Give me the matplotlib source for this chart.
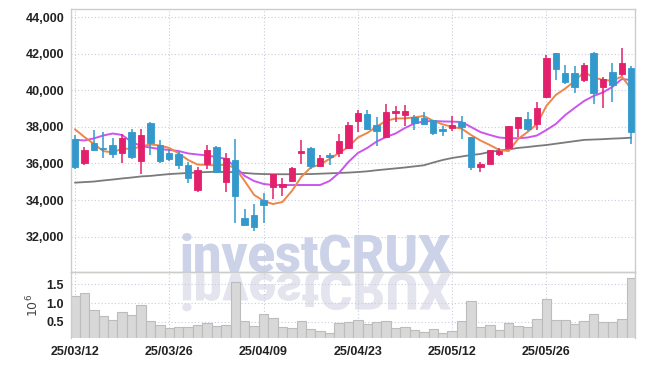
import matplotlib
matplotlib.use('Agg')
import matplotlib.pyplot as plt
import numpy as np
from matplotlib.textpath import TextPath
from matplotlib.font_manager import FontProperties
from matplotlib.patches import PathPatch
from matplotlib.transforms import Affine2D, IdentityTransform

plt.rcParams['font.family'] = ['Liberation Sans', 'DejaVu Sans']

# ---------------- data ----------------
dates = ['25/03/12', '25/03/13', '25/03/14', '25/03/17', '25/03/18', '25/03/19', '25/03/20',
         '25/03/21', '25/03/24', '25/03/25', '25/03/26', '25/03/27', '25/03/28', '25/03/31',
         '25/04/01', '25/04/02', '25/04/03', '25/04/04', '25/04/07', '25/04/08', '25/04/09',
         '25/04/10', '25/04/11', '25/04/14', '25/04/15', '25/04/16', '25/04/17', '25/04/18',
         '25/04/21', '25/04/22', '25/04/23', '25/04/24', '25/04/25', '25/04/28', '25/04/29',
         '25/04/30', '25/05/02', '25/05/07', '25/05/08', '25/05/09', '25/05/12', '25/05/13',
         '25/05/14', '25/05/15', '25/05/16', '25/05/19', '25/05/20', '25/05/21', '25/05/22',
         '25/05/23', '25/05/26', '25/05/27', '25/05/28', '25/05/29', '25/05/30', '25/06/02',
         '25/06/04', '25/06/05', '25/06/09', '25/06/10']

opens = [37350, 36000, 37100, 36850, 37000, 36550, 37700, 36150, 38200, 37000,
         36550, 36500, 35900, 34550, 35950, 36900, 35000, 36200, 33000, 33200,
         34000, 34700, 34700, 35050, 36550, 36850, 35850, 36450, 36600, 36850,
         38300, 38700, 38100, 37450, 38750, 38650, 38550, 38500, 38400, 37900,
         37950, 38250, 37450, 35800, 35950, 36500, 36850, 37950, 38450, 38150,
         39650, 42050, 40950, 40950, 40550, 42050, 40200, 41000, 40900, 41250]
highs = [37550, 36900, 37850, 37700, 37400, 37600, 37900, 37900, 38250, 37300,
         36800, 36650, 36100, 35800, 37000, 36950, 36550, 37350, 33500, 33800,
         34400, 35450, 35200, 35800, 37300, 36900, 36450, 36550, 37600, 38250,
         38950, 38950, 38550, 39250, 39150, 39200, 38650, 38800, 38400, 38050,
         38600, 38600, 37450, 36100, 36750, 36850, 38050, 38550, 38800, 39350,
         41950, 42050, 41400, 41350, 41500, 42100, 40750, 41500, 42300, 41350]
lows = [35700, 35900, 36700, 36300, 36300, 36000, 36250, 35450, 36450, 36050,
        36150, 35700, 34950, 34450, 35700, 35500, 34450, 32750, 32650, 32300,
        32750, 34050, 34200, 35000, 35950, 35700, 35800, 35900, 36350, 36800,
        37700, 37850, 36950, 37400, 38250, 38050, 37850, 38100, 37550, 37500,
        37800, 37350, 35650, 35550, 35950, 36400, 36850, 37450, 37800, 37850,
        39600, 40550, 40350, 39850, 40450, 39250, 39050, 39350, 40800, 37050]
closes = [35800, 36750, 36750, 36800, 36500, 37400, 36350, 37550, 37100, 36150,
          36250, 35900, 35200, 35650, 36750, 35550, 36300, 34200, 32650, 32500,
          33700, 35400, 34900, 35750, 36700, 35850, 36300, 36350, 37250, 38100,
          38750, 37900, 37800, 38800, 38850, 38850, 38200, 38150, 37650, 37800,
          38100, 38000, 35800, 35950, 36750, 36700, 38050, 38550, 37900, 39050,
          41750, 41150, 40450, 40200, 41400, 39850, 40600, 40300, 41500, 37700]

ma5 = [37870, 37450, 37070, 36680, 36600, 36820, 36790, 36930, 37040, 36980,
       36850, 36550, 36190, 35940, 35920, 35890, 35940, 35750, 35040, 34280,
       33950, 33780, 33890, 34490, 35260, 35780, 35940, 36250, 36570, 36900,
       37420, 37670, 38020, 38330, 38460, 38470, 38520, 38600, 38330, 38140,
       38000, 37910, 37560, 37260, 37010, 36740, 36680, 37340, 37720, 38160,
       39150, 39750, 40100, 40510, 41010, 40710, 40570, 40530, 40760, 40080]
ma10 = [37290, 37260, 37370, 37530, 37640, 37560, 37180, 36960, 36870, 36790,
        36740, 36680, 36550, 36490, 36440, 36350, 36250, 35810, 35320, 35040,
        34880, 34820, 34820, 34820, 34820, 34820, 34820, 35040, 35480, 36080,
        36570, 36850, 37200, 37450, 37640, 37940, 38190, 38300, 38330, 38300,
        38290, 38270, 38000, 37720, 37560, 37420, 37380, 37380, 37420, 37530,
        37830, 38160, 38650, 39040, 39420, 39690, 39890, 40190, 40620, 40570]
ma60 = [34950, 34980, 35010, 35070, 35120, 35180, 35230, 35290, 35320, 35370,
        35420, 35450, 35480, 35510, 35530, 35550, 35530, 35520, 35480, 35440,
        35420, 35410, 35410, 35410, 35420, 35420, 35440, 35460, 35480, 35500,
        35530, 35570, 35630, 35680, 35730, 35780, 35840, 35900, 36050, 36190,
        36300, 36380, 36460, 36520, 36630, 36710, 36770, 36850, 36900, 36960,
        37010, 37080, 37150, 37220, 37290, 37310, 37330, 37360, 37380, 37410]

volume_m = [1.19, 1.26, 0.80, 0.64, 0.54, 0.75, 0.67, 0.96, 0.52, 0.41,
            0.32, 0.35, 0.35, 0.41, 0.46, 0.38, 0.40, 1.55, 0.51, 0.38,
            0.70, 0.59, 0.35, 0.32, 0.53, 0.30, 0.24, 0.19, 0.46, 0.48,
            0.54, 0.44, 0.48, 0.51, 0.32, 0.35, 0.27, 0.22, 0.30, 0.19,
            0.24, 0.51, 1.05, 0.35, 0.40, 0.27, 0.46, 0.38, 0.35, 0.56,
            1.10, 0.54, 0.54, 0.43, 0.51, 0.70, 0.48, 0.48, 0.56, 1.66]

price_ticks = [32000, 34000, 36000, 38000, 40000, 42000, 44000]
vol_ticks = [0.5, 1.0, 1.5]
date_tick_idx = [0, 10, 20, 30, 40, 50]

# ---------------- styling ----------------
UP = '#e3206b'
DOWN = '#3399cc'
GRID = '#c9ccdc'
SPINE = '#cccccc'
TXT = '#222222'

W, H = 645, 366
fig = plt.figure(figsize=(W / 100, H / 100), dpi=100)
fig.patch.set_facecolor('white')
L, R = 71, 635
ax = fig.add_axes([L / W, (H - 272) / H, (R - L) / W, 263 / H])
axv = fig.add_axes([L / W, (H - 338) / H, (R - L) / W, 66 / H], sharex=ax)
for a in (ax, axv):
    a.set_facecolor('none')

x = np.arange(len(dates))
o = np.array(opens); c = np.array(closes)
hi = np.array(highs); lo = np.array(lows)
up = c >= o
cols = [UP if u else DOWN for u in up]

# moving averages
ax.plot(x, ma60, color='#7a7a7a', lw=1.3, zorder=2, solid_capstyle='round')
ax.plot(x, ma10, color='#cc55ee', lw=1.4, zorder=2.1, solid_capstyle='round')
ax.plot(x, ma5, color='#ee8648', lw=1.4, zorder=2.2, solid_capstyle='round')

# candles
ax.vlines(x, lo, hi, colors=cols, lw=1.1, zorder=3)
ax.bar(x, np.abs(c - o), bottom=np.minimum(o, c), width=0.68, color=cols,
       edgecolor=cols, lw=0.6, zorder=4)

# volume
axv.bar(x, volume_m, width=1.0, color='#d8d8d8', edgecolor='#bcbcbc', lw=0.8, zorder=2)

# axes ranges
ax.set_xlim(-0.42, len(dates) - 0.6)
ax.set_ylim(30060, 44454)
axv.set_ylim(0.064, 1.83)

# ticks
ax.set_yticks(price_ticks)
ax.set_yticklabels([f'{v:,}' for v in price_ticks])
ax.set_xticks(date_tick_idx)
axv.set_yticks(vol_ticks)
axv.set_yticklabels([f'{v:.1f}' for v in vol_ticks])
axv.set_xticklabels([dates[i] for i in date_tick_idx])

for a in (ax, axv):
    a.tick_params(length=0, pad=5, labelsize=9, labelcolor=TXT)
    for lab in a.get_xticklabels() + a.get_yticklabels():
        lab.set_fontweight('bold')
    a.grid(True, color=GRID, ls=(0, (1, 2)), lw=0.8, zorder=1)
    a.set_axisbelow(True)
    for s in a.spines.values():
        s.set_color(SPINE)
        s.set_linewidth(1.0)
ax.tick_params(labelbottom=False)
axv.spines['bottom'].set_visible(False)
axv.tick_params(axis='x', pad=6)

axv.set_ylabel(r'$10^6$', fontsize=9, color='#444444', rotation=90)
axv.yaxis.set_label_coords(-0.052, 0.5)

# watermark
wm_font = FontProperties(family='Roboto', weight=900)
wm_px = 50.5
fig.text(180 / W, (H - 271.3) / H, 'investCRUX', fontproperties=wm_font,
         fontsize=wm_px * 0.72, color='#ccd2e8', ha='left', va='baseline', zorder=-2)
tp = TextPath((0, 0), 'investCRUX', size=wm_px, prop=wm_font)
refl = Affine2D().scale(1, -1).translate(180, H - 273.7)
fig.add_artist(PathPatch(refl.transform_path(tp), facecolor='#e3e4ee', edgecolor='none',
                         transform=IdentityTransform(), zorder=-3))

fig.savefig('out.png', dpi=100, facecolor='white')
